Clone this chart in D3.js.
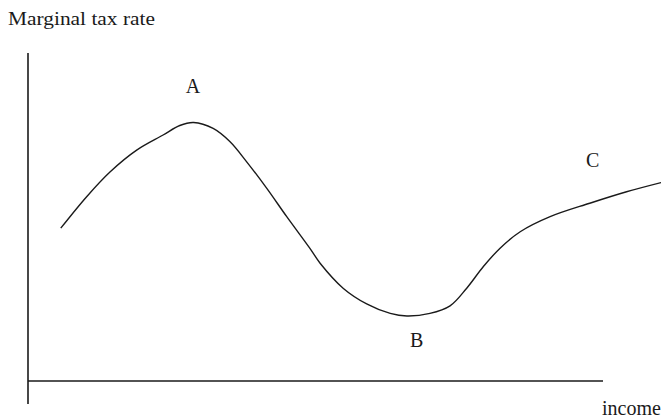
<!DOCTYPE html>
<html>
<head>
<meta charset="utf-8">
<script src="https://cdn.jsdelivr.net/npm/d3@7"></script>
<style>
  html, body { margin: 0; padding: 0; background: #fff; }
  svg { display: block; }
  text { font-family: "Liberation Serif", "Times New Roman", serif; fill: #1a1a1a; }
</style>
</head>
<body>
<svg id="chart" width="661" height="419"></svg>
<script>
// Income (x, arbitrary units) and marginal tax rate (y, arbitrary units)
const income = [5.7, 10.2, 14.3, 18.9, 23.5, 26.4, 28.8, 32.2, 35.1, 38.0, 41.5, 45.0, 49.0, 50.8, 54.8, 58.9, 63.0, 65.9, 69.9, 73.4, 76.3, 79.2, 82.1, 85.6, 90.8, 97.7, 104.1, 110.1];
const taxRate = [46.6, 56.2, 63.8, 70.4, 75.0, 77.9, 78.8, 77.0, 73.0, 66.9, 58.8, 50.1, 40.5, 35.9, 28.3, 23.5, 20.6, 19.8, 20.6, 22.9, 28.3, 34.9, 40.5, 45.5, 50.1, 54.2, 57.7, 60.5];
const pointLabels = ["A", "B", "C"];
const labelX = [28.7, 67.6, 98.2];
const labelY = [87.7, 10.4, 65.2];
const yAxisTitle = "Marginal tax rate";
const xAxisTitle = "income";

const svg = d3.select("#chart");
const x = d3.scaleLinear().domain([0, 100]).range([28, 603]);
const y = d3.scaleLinear().domain([0, 100]).range([381, 53]);

// axes (plain lines, no ticks)
svg.append("line")
  .attr("x1", x(0)).attr("x2", x(0))
  .attr("y1", y(100)).attr("y2", y(0) + 23)
  .attr("stroke", "#1a1a1a").attr("stroke-width", 1.6);
svg.append("line")
  .attr("x1", x(0)).attr("x2", x(100))
  .attr("y1", y(0)).attr("y2", y(0))
  .attr("stroke", "#1a1a1a").attr("stroke-width", 1.6);

const data = income.map((v, i) => [v, taxRate[i]]);
const line = d3.line()
  .x(d => x(d[0]))
  .y(d => y(d[1]))
  .curve(d3.curveCatmullRom.alpha(0.5));

svg.append("path")
  .datum(data)
  .attr("fill", "none")
  .attr("stroke", "#1a1a1a")
  .attr("stroke-width", 1.4)
  .attr("d", line);

svg.selectAll("text.pl")
  .data(pointLabels)
  .join("text")
  .attr("class", "pl")
  .attr("x", (d, i) => x(labelX[i]))
  .attr("y", (d, i) => y(labelY[i]))
  .attr("text-anchor", "middle")
  .attr("font-size", 20)
  .text(d => d);

svg.append("text")
  .attr("x", 8).attr("y", 25)
  .attr("font-size", 19)
  .attr("textLength", 147)
  .attr("lengthAdjust", "spacingAndGlyphs")
  .text(yAxisTitle);

svg.append("text")
  .attr("x", 602).attr("y", 415)
  .attr("font-size", 20)
  .text(xAxisTitle);
</script>
</body>
</html>
